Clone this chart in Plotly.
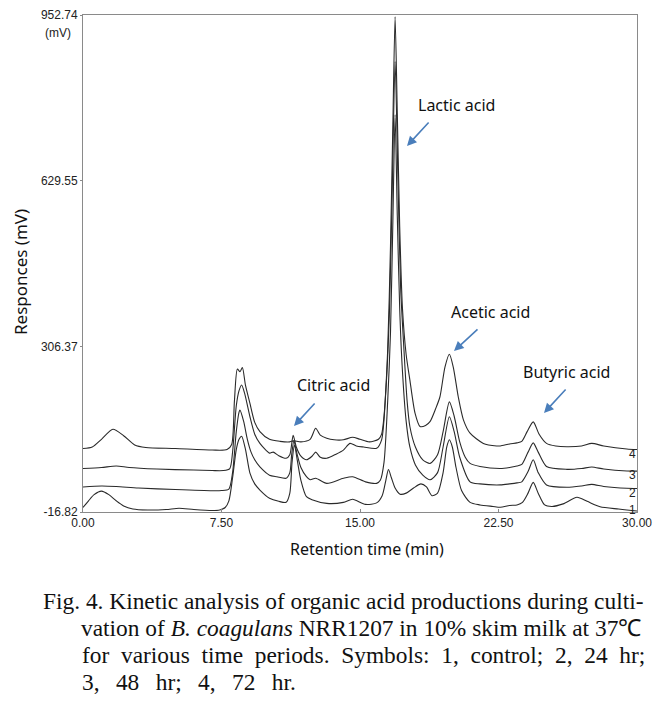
import plotly.graph_objects as go

# ---- data (retention time in min, response in mV) ----
t1 = [0, 0.3, 0.6, 1.0, 1.4, 1.8, 2.2, 2.7, 3.5, 4.5, 5.2, 6.0, 7.0, 7.4, 7.7, 7.9, 8.1, 8.3, 8.45, 8.59, 8.8, 9.04, 9.3, 9.58,
      10.1, 10.6, 11.0, 11.2, 11.32, 11.45, 11.6, 11.8, 12.1, 12.4, 13.2, 14.1, 14.6, 15.3, 15.9, 16.2, 16.4, 16.54, 16.7,
      16.9, 17.17, 17.5, 17.9, 18.3, 18.6, 18.9, 19.2, 19.5, 19.7, 19.84, 20.0, 20.2, 20.5, 20.96, 21.5, 22.2, 22.6, 23.1,
      23.5, 23.8, 24.1, 24.38, 24.65, 25.0, 25.4, 26.0, 26.75, 27.3, 28.0, 29.0, 29.45, 30.0]
v1 = [-8, 5, 17, 24, 17, 5, -5, -11, -13, -12, -9.5, -12, -14, -13, -8, 5, 50, 105, 125, 131, 105, 59, 38, 26,
      10, 4, 2, 20, 80, 114, 85, 45, 13, 7, 0, 2, 8, -2, 1, 15, 45, 66, 50,
      30, 18, 20, 30, 38, 32, 15, 20, 60, 110, 124, 110, 70, 25, 2, -3, -6, -7.6, -4,
      -3, 2, 20, 41, 20, -3, -6, -1, 12, 4, -6.5, -11, -13, -15]

t2 = [0, 1.0, 1.8, 3.0, 5.0, 7.0, 7.5, 7.9, 8.1, 8.3, 8.45, 8.5, 8.7, 8.9, 9.1, 9.3, 9.58, 10.1, 10.5, 11.0, 11.2, 11.3,
      11.42, 11.6, 11.8, 12.1, 12.3, 12.6, 13.2, 14.1, 14.6, 15.3, 15.9, 16.1, 16.3, 16.5, 16.65, 16.78, 16.9, 17.02,
      17.15, 17.28, 17.5, 17.7, 18.0, 18.4, 18.8, 19.2, 19.5, 19.84, 20.1, 20.4, 20.96, 21.5, 22.6, 23.1, 23.5, 23.76,
      24.1, 24.38, 24.65, 25.1, 26.2, 27.0, 27.55, 28.2, 29.45, 30.0]
v2 = [32, 34, 33, 30, 27, 24.7, 25, 28, 60, 140, 178, 182, 160, 125, 100, 85, 71, 55, 52, 49, 60, 95,
      122, 95, 70, 52, 46, 49, 39, 49, 52, 42, 39, 45, 80, 200, 332, 550, 758, 560,
      380, 270, 160, 110, 75, 55, 46, 60, 110, 169, 140, 90, 42, 38, 36, 38, 40, 42,
      62, 85, 60, 36, 31.4, 34, 37, 33, 29.4, 29]

t3 = [0, 1.0, 1.8, 2.5, 4.0, 6.0, 7.0, 7.6, 7.95, 8.1, 8.3, 8.45, 8.59, 8.75, 9.04, 9.3, 9.58, 10.1, 10.3, 10.6, 11.0,
      11.2, 11.38, 11.55, 11.8, 12.1, 12.4, 12.6, 12.85, 13.2, 13.7, 14.1, 14.46, 14.8, 15.2, 15.9, 16.17, 16.4, 16.6,
      16.75, 16.9, 17.05, 17.2, 17.38, 17.55, 17.7, 18.0, 18.4, 18.8, 19.2, 19.5, 19.84, 20.1, 20.4, 20.7, 20.96, 21.5,
      22.6, 23.1, 23.5, 23.76, 24.1, 24.38, 24.65, 25.1, 26.2, 27.0, 27.55, 28.2, 29.45, 30.0]
v3 = [68, 70, 73, 70, 67, 65, 64, 64, 68, 100, 190, 220, 231, 215, 169, 135, 117, 98, 100, 93, 88,
      95, 133, 110, 92, 85, 92, 100, 90, 88, 96, 104, 117, 112, 110, 107.5, 124, 220, 380,
      620, 862, 640, 420, 300, 200, 150, 110, 85, 78, 95, 140, 198, 170, 120, 90, 78, 72,
      68, 70, 73, 76, 100, 118, 100, 72, 66.4, 68, 71, 67, 63.2, 63]

t4 = [0, 0.5, 1.0, 1.62, 2.2, 2.8, 3.4, 5.0, 7.0, 7.8, 8.05, 8.2, 8.36, 8.5, 8.63, 8.8, 9.04, 9.3, 9.58, 10.1, 10.67,
      11.2, 11.4, 11.8, 12.3, 12.6, 12.85, 13.2, 13.6, 14.1, 14.6, 15.0, 15.5, 16.0, 16.17, 16.3, 16.5, 16.65, 16.78,
      16.9, 17.02, 17.15, 17.3, 17.5, 17.7, 17.98, 18.25, 18.55, 18.8, 19.1, 19.33, 19.6, 19.84, 20.05, 20.32, 20.6,
      20.96, 21.68, 22.4, 22.6, 23.1, 23.5, 23.76, 24.05, 24.38, 24.7, 25.1, 25.6, 26.2, 27.0, 27.55, 28.2, 29.45, 30.0]
v4 = [107, 110, 125, 144.5, 132, 114, 109, 107, 104, 105, 115, 200, 262, 257, 265, 230, 195, 158, 140, 125, 121,
      120, 122, 120, 125, 146.5, 133, 127, 124, 124, 129, 125, 120, 125, 135, 170, 300, 500, 740,
      949, 760, 540, 380, 290, 241, 176, 150, 152, 160, 185, 208, 266, 291, 266, 208, 163,
      137, 117, 112, 112, 116, 118, 121, 140, 159, 135, 117, 112, 110.6, 112, 117, 112, 106, 105]

series = [("1", t1, v1), ("2", t2, v2), ("3", t3, v3), ("4", t4, v4)]
label_shift = [1, -4, -4, -4]

x_ticks = [0, 7.5, 15, 22.5, 30]
y_ticks = [-16.82, 306.37, 629.55, 952.74]

peak_labels = ["Lactic acid", "Citric acid", "Acetic acid", "Butyric acid"]

# ---- figure (page has an 8px body margin, so figure coords = page coords - 8) ----
OFF = 8
W, H = 667 - OFF, 712 - OFF
L, R, T, B = 83 - OFF, 30, 15 - OFF, 200
pw, ph = W - L - R, H - T - B

def px(x):
    return (x - OFF - L) / pw

def py(y):
    return (H - B - (y - OFF)) / ph

fig = go.Figure()
for name, t, v in series:
    fig.add_trace(go.Scatter(x=t, y=v, mode="lines", name=name,
                             line=dict(color="#2a2a2a", width=1.1, shape="spline", smoothing=0.7),
                             hoverinfo="skip", showlegend=False))

# trace number labels at the right end
for (name, t, v), dy in zip(series, label_shift):
    fig.add_annotation(x=29.75, y=v[-1], xref="x", yref="y", text=name, showarrow=False,
                       xanchor="center", yanchor="middle", yshift=dy,
                       font=dict(family="Liberation Sans, Arial", size=12, color="#222"))

axis_font = dict(family="Liberation Sans, Arial", size=12, color="#222")
fig.update_xaxes(range=[0, 30], tickvals=x_ticks, ticktext=[f"{v:.2f}" for v in x_ticks],
                 showgrid=False, zeroline=False, showline=True, linecolor="#8a8a8a", linewidth=1,
                 mirror=True, ticks="inside", ticklen=3, tickcolor="#8a8a8a", tickfont=axis_font,
                 automargin=False)
fig.update_yaxes(range=[-16.82, 952.74], tickvals=y_ticks, ticktext=[f"{v:.2f}" for v in y_ticks],
                 showgrid=False, zeroline=False, showline=True, linecolor="#8a8a8a", linewidth=1,
                 mirror=True, ticks="outside", ticklen=2, tickcolor="#8a8a8a", tickfont=axis_font,
                 automargin=False)

fig.add_annotation(x=px(367), y=py(549), xref="paper", yref="paper", text="Retention time (min)",
                   showarrow=False, xanchor="center", yanchor="middle",
                   font=dict(family="Noto Sans", size=16, color="#111"))
fig.add_annotation(x=px(20), y=py(272), xref="paper", yref="paper", text="Responces (mV)",
                   showarrow=False, textangle=-90, xanchor="center", yanchor="middle",
                   font=dict(family="Noto Sans", size=17, color="#111"))

# "(mV)" unit under top tick label
fig.add_annotation(x=px(43), y=py(33), xref="paper", yref="paper", text="(mV)", showarrow=False,
                   xanchor="left", yanchor="middle", font=axis_font)

# peak name labels with arrows (pixel-placed)
arrow_color = "#4a7ebb"
label_specs = [
    (peak_labels[0], 456, 105, 430, 121, 407, 146),
    (peak_labels[1], 333, 385, 316, 402, 294, 426),
    (peak_labels[2], 490, 312, 479, 328, 454, 351),
    (peak_labels[3], 566, 372, 567, 388, 544, 413),
]
for text, tx, ty, ax0, ay0, ax1, ay1 in label_specs:
    fig.add_annotation(x=px(tx), y=py(ty), xref="paper", yref="paper", text=text, showarrow=False,
                       xanchor="center", yanchor="middle",
                       font=dict(family="Noto Sans", size=16, color="#111"))
    fig.add_annotation(x=px(ax1), y=py(ay1), ax=ax0 - ax1, ay=ay0 - ay1, xref="paper", yref="paper",
                       axref="pixel", ayref="pixel", text="", showarrow=True, arrowhead=2,
                       arrowsize=1.2, arrowwidth=1.6, arrowcolor=arrow_color)

# caption
NB = "\u00a0"
cap_font = dict(family="Liberation Serif, Times New Roman", size=23.4, color="#111")
caption = [
    (41, 601, "Fig. 4. Kinetic analysis of organic acid productions during culti-"),
    (79, 628, "vation of <i>B. coagulans</i> NRR1207 in 10% skim milk at 37\u2103"),
    (80, 655, ("for various time periods. Symbols: 1, control; 2, 24 hr;").replace(" ", NB + NB)),
    (80, 682, ("3, 48 hr; 4, 72 hr.").replace(" ", NB * 2 + "\u2009")),
]
for cx, cy, text in caption:
    fig.add_annotation(x=px(cx), y=py(cy), xref="paper", yref="paper", text=text, showarrow=False,
                       xanchor="left", yanchor="middle", font=cap_font)

fig.update_layout(width=W, height=H, margin=dict(l=L, r=R, t=T, b=B, pad=0),
                  paper_bgcolor="white", plot_bgcolor="white", showlegend=False)

fig.write_html("out.html")
